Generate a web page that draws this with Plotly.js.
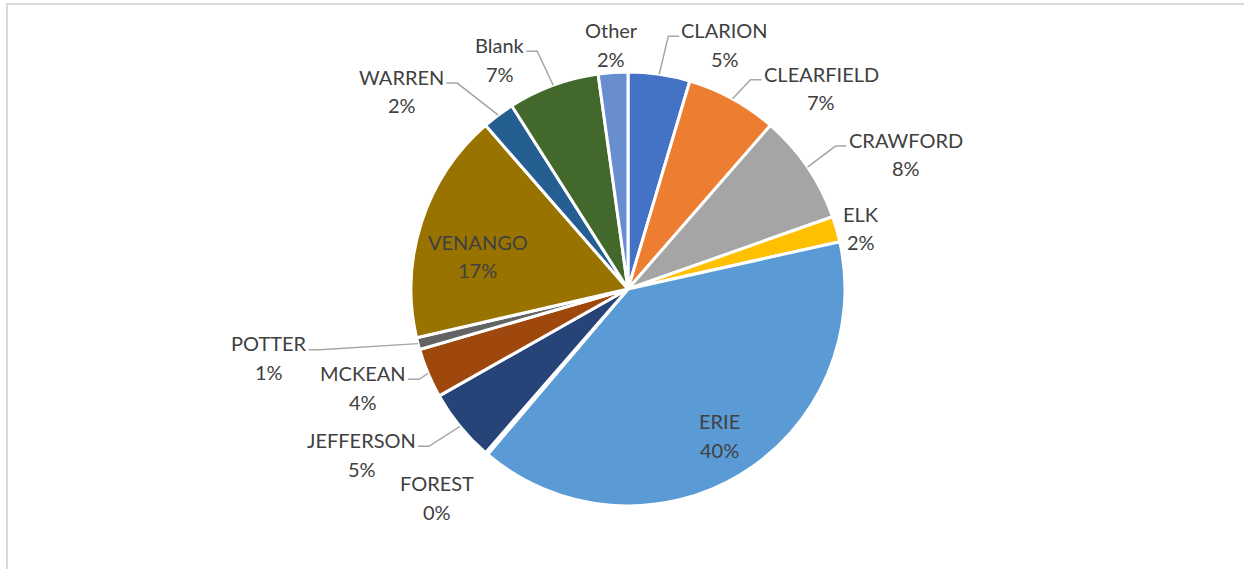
<!DOCTYPE html>
<html>
<head>
<meta charset="utf-8">
<script src="https://cdn.plot.ly/plotly-3.0.1.min.js"></script>
<style>html,body{margin:0;padding:0;background:#fff;}#chart{width:1244px;height:569px;}</style>
</head>
<body>
<div id="chart"></div>
<script>
// ---- data ----
const categories = ["CLARION","CLEARFIELD","CRAWFORD","ELK","ERIE","FOREST","JEFFERSON","MCKEAN","POTTER","VENANGO","WARREN","Blank","Other"];
const shares = [4.6, 6.8, 8.2, 1.9, 39.7, 0.2, 5.4, 3.7, 0.9, 17.2, 2.4, 6.8, 2.2];
const sliceColors = ["#4472C4","#ED7D31","#A5A5A5","#FFC000","#5B9BD5","#70AD47","#264478","#9E480E","#636363","#997300","#255E91","#43682B","#698ED0"];

// ---- layout config (label placement relative to each slice's outer edge point, px) ----
const W = 1244, H = 569;
const pie = {cx: 628, cy: 289, r: 217};
const labelCfg = {
  CLARION:    {anchor:"left",   dx: 22,  dy: -30, leader: true},
  CLEARFIELD: {anchor:"left",   dx: 31,  dy: -11, leader: true},
  CRAWFORD:   {anchor:"left",   dx: 41,  dy: -13, leader: true},
  ELK:        {anchor:"left",   dx: 7,   dy: -1,  leader: false},
  ERIE:       {anchor:"center", dx: -21, dy: -39, leader: false},
  FOREST:     {anchor:"center", dx: -50, dy: 44,  leader: false},
  JEFFERSON:  {anchor:"right",  dx: -44, dy: 28,  leader: true},
  MCKEAN:     {anchor:"right",  dx: -22, dy: 14,  leader: true},
  POTTER:     {anchor:"right",  dx: -111,dy: 14,  leader: true},
  VENANGO:    {anchor:"center", dx: 56,  dy: 34,  leader: false},
  WARREN:     {anchor:"right",  dx: -54, dy: -24, leader: true},
  Blank:      {anchor:"right",  dx: -29, dy: -26, leader: true},
  Other:      {anchor:"center", dx: -2,  dy: -28, leader: false}
};
const textColor = "#404040";
const leaderColor = "#A6A6A6";
const fontFamily = "Lato, 'Open Sans', sans-serif";
const fontSize = 20;
const lineGap = 28.5;

const px = x => x / W;
const py = y => 1 - y / H;

const ctx = document.createElement("canvas").getContext("2d");
ctx.font = fontSize + "px Lato";
const textW = s => ctx.measureText(s).width;

const total = shares.reduce((a, b) => a + b, 0);
const annotations = [];
const shapes = [];
let cum = 0;
categories.forEach((name, i) => {
  const v = shares[i];
  const mid = 2 * Math.PI * (cum + v / 2) / total;
  cum += v;
  const ex = pie.cx + pie.r * Math.sin(mid);
  const ey = pie.cy - pie.r * Math.cos(mid);
  const c = labelCfg[name];
  const lx = ex + c.dx, ly = ey + c.dy;
  const pct = Math.round(v / total * 100) + "%";
  const bw = Math.max(textW(name), textW(pct));
  const centerX = c.anchor === "left" ? lx + bw / 2 : (c.anchor === "right" ? lx - bw / 2 : lx);
  [[name, ly - lineGap / 2], [pct, ly + lineGap / 2]].forEach(([t, yy]) => {
    annotations.push({
      xref: "paper", yref: "paper",
      x: px(centerX), y: py(yy),
      xanchor: "center", yanchor: "middle",
      text: t, showarrow: false,
      borderpad: 0, borderwidth: 0,
      font: {family: fontFamily, size: fontSize, color: textColor}
    });
  });
  if (c.leader) {
    const sign = c.anchor === "left" ? -1 : 1;
    const hy = ly - 8;
    const endX = lx + sign * 2;
    const elbX = lx + sign * 13;
    shapes.push({
      type: "path", xref: "paper", yref: "paper",
      path: `M ${px(ex)},${py(ey)} L ${px(elbX)},${py(hy)} L ${px(endX)},${py(hy)}`,
      line: {color: leaderColor, width: 1.5}
    });
  }
});

// chart area border (left and top edges visible)
shapes.push({type:"line", xref:"paper", yref:"paper", x0: px(7), x1: px(7), y0: py(3), y1: py(575), line:{color:"#D9D9D9", width:2}});
shapes.push({type:"line", xref:"paper", yref:"paper", x0: px(6), x1: px(1250), y0: py(4), y1: py(4), line:{color:"#D9D9D9", width:2}});

const trace = {
  type: "pie",
  labels: categories,
  values: shares,
  sort: false,
  direction: "clockwise",
  rotation: 0,
  marker: {colors: sliceColors, line: {color: "#FFFFFF", width: 3}},
  textinfo: "none",
  hoverinfo: "label+percent",
  showlegend: false,
  domain: {
    x: [px(pie.cx - pie.r), px(pie.cx + pie.r)],
    y: [py(pie.cy + pie.r), py(pie.cy - pie.r)]
  }
};

const layout = {
  width: W, height: H,
  margin: {l: 0, r: 0, t: 0, b: 0},
  paper_bgcolor: "#FFFFFF",
  showlegend: false,
  annotations: annotations,
  shapes: shapes
};

Plotly.newPlot("chart", [trace], layout, {displayModeBar: false, staticPlot: true});
</script>
</body>
</html>
